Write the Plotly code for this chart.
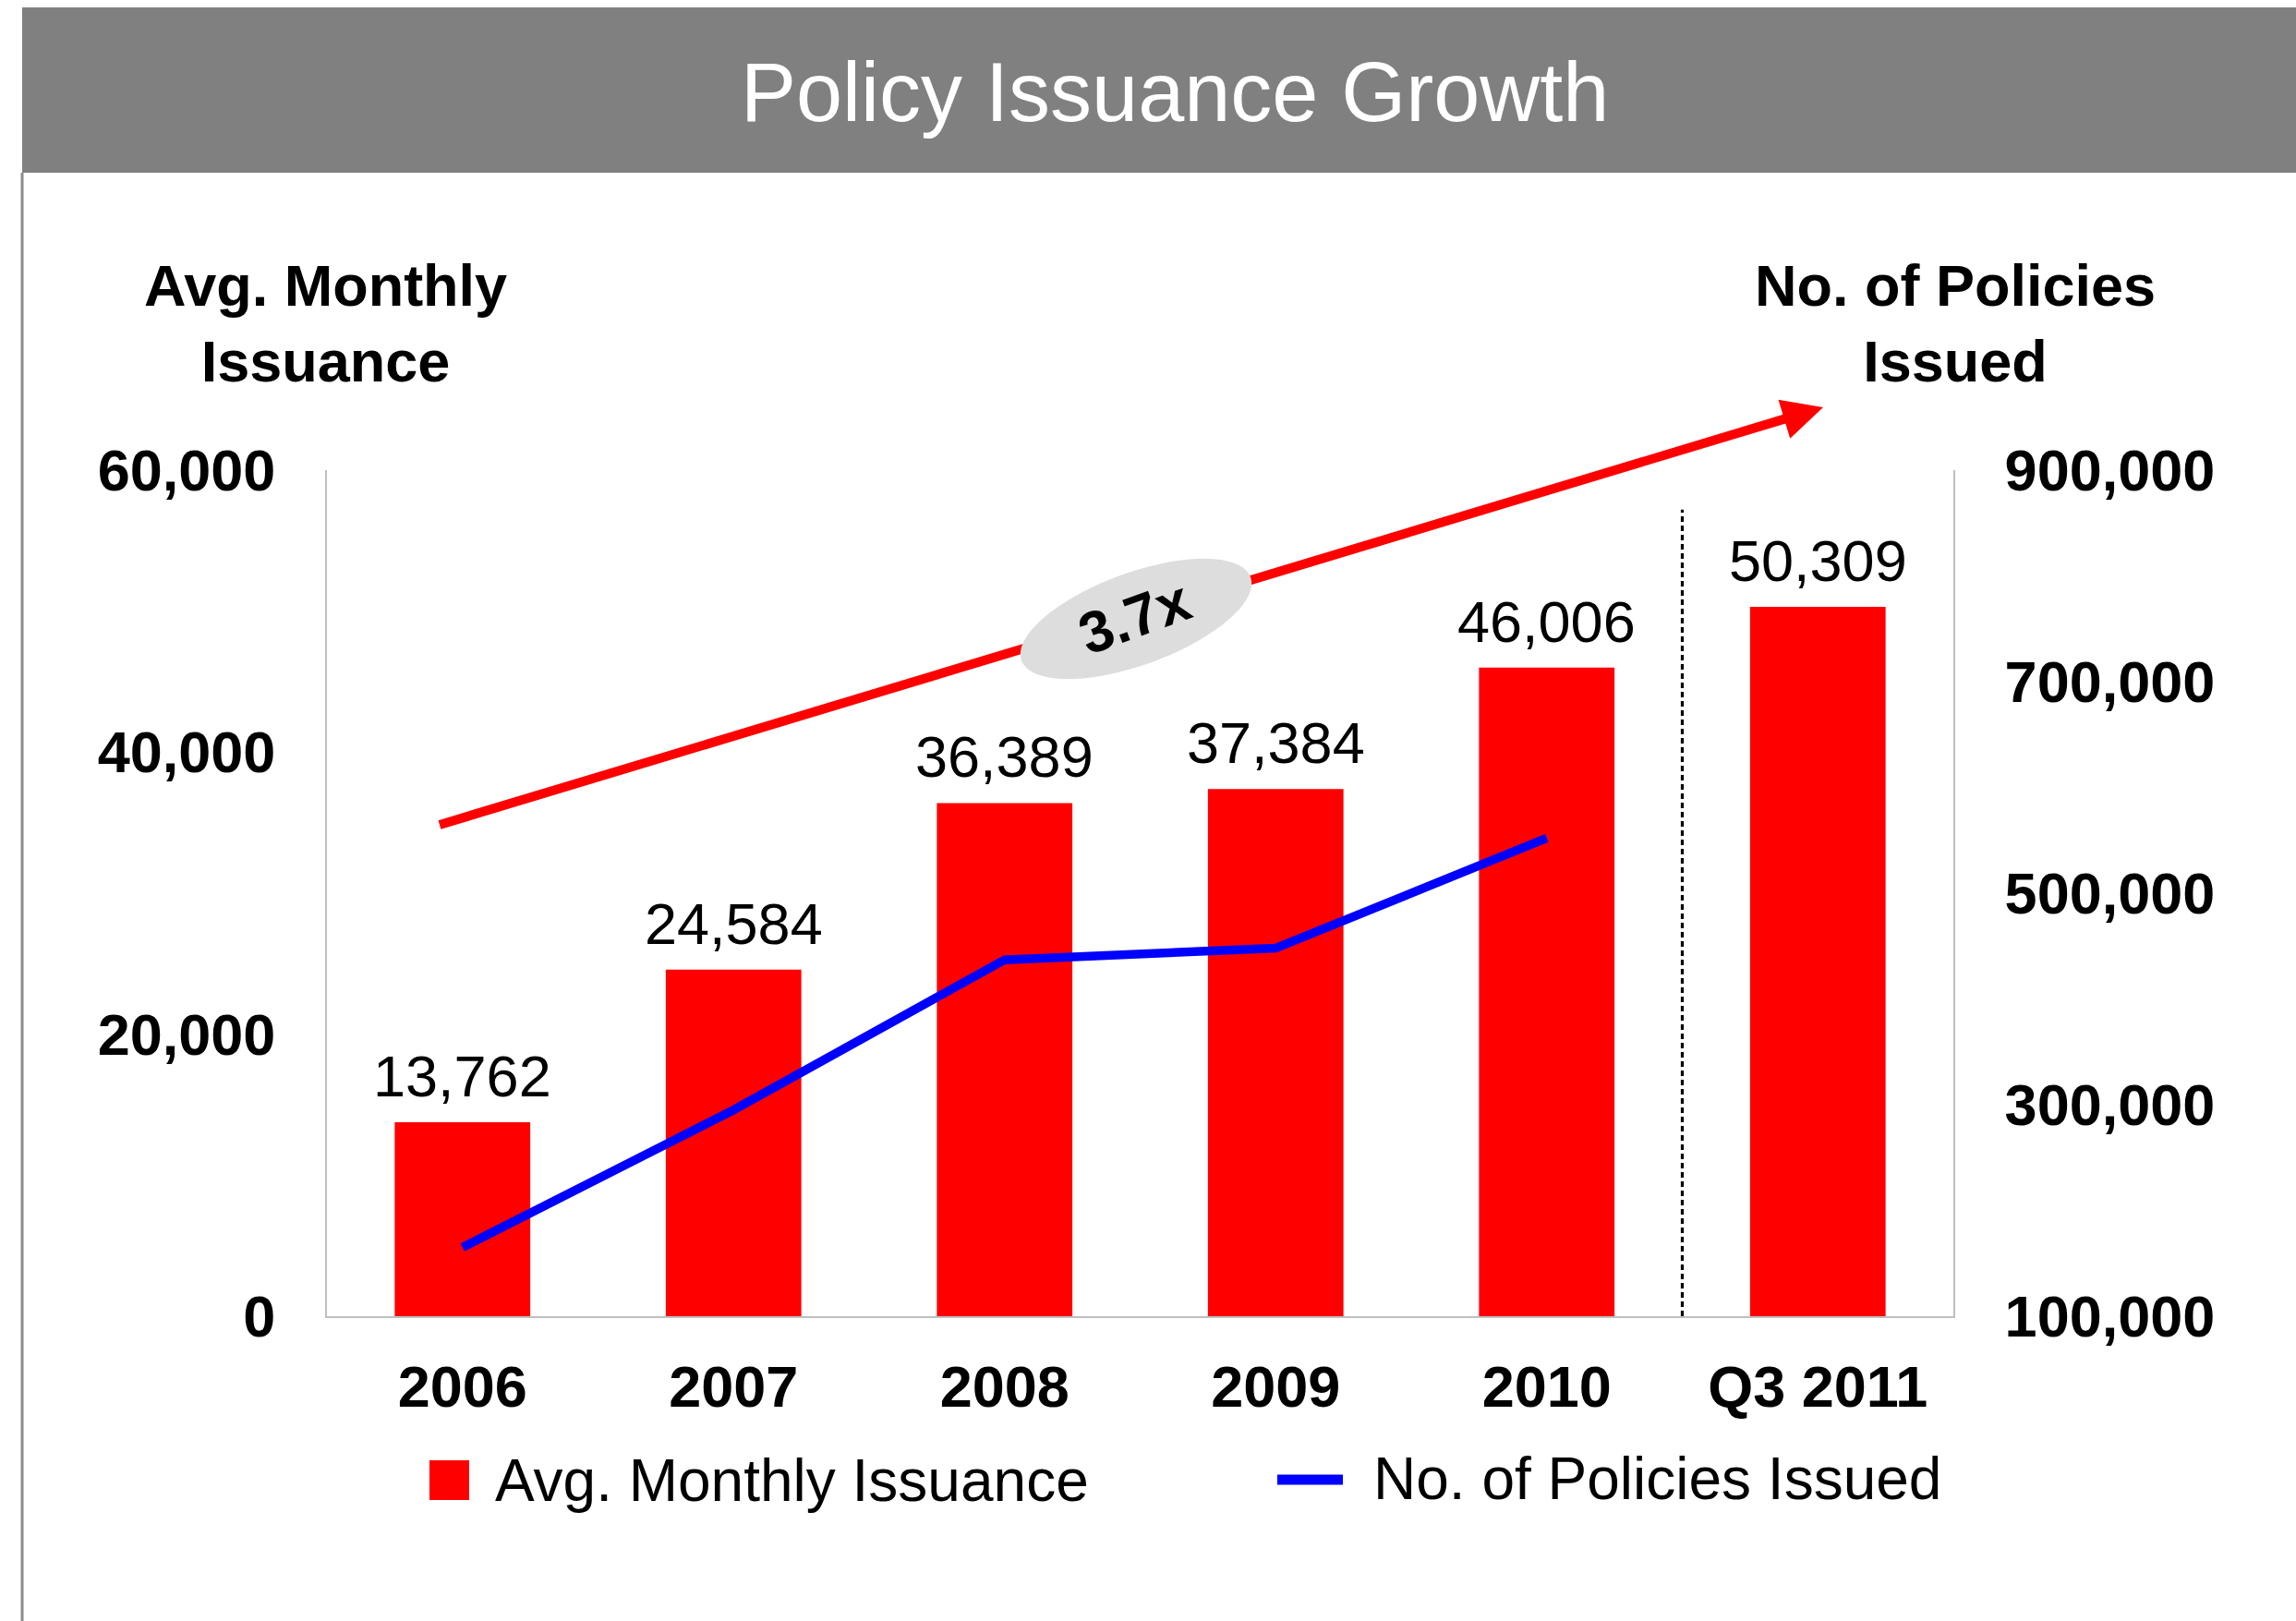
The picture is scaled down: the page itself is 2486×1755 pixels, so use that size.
import math
import plotly.graph_objects as go

# ---- data -------------------------------------------------------------
categories = ["2006", "2007", "2008", "2009", "2010", "Q3 2011"]
avg_monthly_issuance = [13762, 24584, 36389, 37384, 46006, 50309]

policy_years = ["2006", "2007", "2008", "2009", "2010"]
policies_issued = [165000, 295000, 437000, 448000, 552000]

left_ticks = [0, 20000, 40000, 60000]
right_ticks = [100000, 300000, 500000, 700000, 900000]

bar_name = "Avg. Monthly Issuance"
line_name = "No. of Policies Issued"
growth_label = "3.7x"

# ---- page geometry (pixels) -------------------------------------------
W_PAGE, H_PAGE = 2486, 1755
PLOT_L, PLOT_R, PLOT_T, PLOT_B = 354, 2115, 509, 1425
PW, PH = PLOT_R - PLOT_L, PLOT_B - PLOT_T

FONT = "Liberation Sans, Arial, sans-serif"
RED = "#FF0000"
BLUE = "#0000FF"
AXIS_GREY = "#BFBFBF"


def px(x):
    """page x pixel -> paper fraction"""
    return (x - PLOT_L) / PW


def py(y):
    """page y pixel -> paper fraction"""
    return (PLOT_B - y) / PH


fig = go.Figure()

fig.add_trace(go.Bar(
    x=categories, y=avg_monthly_issuance, name=bar_name,
    marker=dict(color=RED, line=dict(width=0)),
    showlegend=False,
))

fig.add_trace(go.Scatter(
    x=policy_years, y=policies_issued, name=line_name, yaxis="y2",
    mode="lines", line=dict(color=BLUE, width=9.5),
    showlegend=False,
))

shapes = []
annotations = []

# value labels above each bar (positioned by category index)
for i, val in enumerate(avg_monthly_issuance):
    annotations.append(dict(text=f"{val:,}", xref="x", yref="y", x=i, y=val,
                            xanchor="center", yanchor="bottom", yshift=13,
                            showarrow=False,
                            font=dict(family=FONT, size=63, color="black")))

# title banner and left rule
shapes.append(dict(type="rect", xref="paper", yref="paper",
                   x0=px(24), x1=px(W_PAGE + 20), y0=py(187), y1=py(8),
                   fillcolor="#808080", line=dict(width=0), layer="below"))
shapes.append(dict(type="line", xref="paper", yref="paper",
                   x0=px(24), x1=px(24), y0=py(187), y1=py(H_PAGE + 10),
                   line=dict(color="#8C8C8C", width=3)))
annotations.append(dict(text="Policy Issuance Growth", xref="paper", yref="paper",
                        x=px(1272), y=py(100), xanchor="center", yanchor="middle",
                        showarrow=False,
                        font=dict(family=FONT, size=90, color="white")))

# dashed separator before the partial-year column
shapes.append(dict(type="line", xref="x", yref="y", x0=4.5, x1=4.5,
                   y0=0, y1=57200,
                   line=dict(color="black", width=3.2, dash="6px,4px")))

# growth arrow (line + head)
ax0, ay0 = 476, 893
ax1, ay1 = 1974, 441
dx, dy = ax1 - ax0, ay1 - ay0
ln = math.hypot(dx, dy)
ux, uy = dx / ln, dy / ln
nx, ny = -uy, ux
head_len, head_half = 44, 22
bx, by = ax1 - head_len * ux, ay1 - head_len * uy
shapes.append(dict(type="line", xref="paper", yref="paper",
                   x0=px(ax0), y0=py(ay0), x1=px(bx + 2 * ux), y1=py(by + 2 * uy),
                   line=dict(color=RED, width=10)))
head = [(ax1, ay1), (bx + head_half * nx, by + head_half * ny),
        (bx - head_half * nx, by - head_half * ny)]
shapes.append(dict(type="path", xref="paper", yref="paper",
                   path="M" + " L".join(f"{px(x):.5f},{py(y):.5f}" for x, y in head) + " Z",
                   fillcolor=RED, line=dict(width=0)))

# grey ellipse badge along the arrow
cx, cy, ra, rb, rot = 1230, 670, 132, 50, math.radians(-20)
pts = []
for k in range(73):
    t = 2 * math.pi * k / 72
    ex, ey = ra * math.cos(t), rb * math.sin(t)
    pts.append((cx + ex * math.cos(rot) - ey * math.sin(rot),
                cy + ex * math.sin(rot) + ey * math.cos(rot)))
shapes.append(dict(type="path", xref="paper", yref="paper",
                   path="M" + " L".join(f"{px(x):.5f},{py(y):.5f}" for x, y in pts) + " Z",
                   fillcolor="#DDDDDD", line=dict(width=0)))
annotations.append(dict(text=growth_label, xref="paper", yref="paper",
                        x=px(cx - 2), y=py(cy - 2), xanchor="center", yanchor="middle",
                        showarrow=False, textangle=-20,
                        font=dict(family=FONT, size=63, color="black", weight="bold")))

# axis titles
annotations.append(dict(text="Avg. Monthly<br>Issuance", xref="paper", yref="paper",
                        x=px(352), y=py(350), xanchor="center", yanchor="middle",
                        showarrow=False,
                        font=dict(family=FONT, size=63, color="black", weight="bold")))
annotations.append(dict(text="No. of Policies<br>Issued", xref="paper", yref="paper",
                        x=px(2117), y=py(350), xanchor="center", yanchor="middle",
                        showarrow=False,
                        font=dict(family=FONT, size=63, color="black", weight="bold")))

# legend
shapes.append(dict(type="rect", xref="paper", yref="paper",
                   x0=px(465), x1=px(508), y0=py(1624), y1=py(1581),
                   fillcolor=RED, line=dict(width=0)))
annotations.append(dict(text=bar_name, xref="paper", yref="paper",
                        x=px(534), y=py(1603), xanchor="left", yanchor="middle",
                        showarrow=False, font=dict(family=FONT, size=64, color="black")))
shapes.append(dict(type="line", xref="paper", yref="paper",
                   x0=px(1383), x1=px(1454), y0=py(1602), y1=py(1602),
                   line=dict(color=BLUE, width=11)))
annotations.append(dict(text=line_name, xref="paper", yref="paper",
                        x=px(1485), y=py(1601), xanchor="left", yanchor="middle",
                        showarrow=False, font=dict(family=FONT, size=64, color="black")))

tick_font = dict(family=FONT, size=63, color="black", weight="bold")

fig.update_layout(
    width=W_PAGE, height=H_PAGE, autosize=False,
    margin=dict(l=PLOT_L, r=W_PAGE - PLOT_R, t=PLOT_T, b=H_PAGE - PLOT_B, pad=0),
    paper_bgcolor="white", plot_bgcolor="white",
    bargap=0.5, showlegend=False,
    font=dict(family=FONT),
    xaxis=dict(type="category", categoryorder="array", categoryarray=categories,
               range=[-0.5, len(categories) - 0.5],
               showline=True, linecolor=AXIS_GREY, linewidth=2, showgrid=False,
               ticks="", tickfont=tick_font, ticklabelstandoff=20),
    yaxis=dict(range=[0, 60000], tickvals=left_ticks, tickformat=",",
               showline=True, linecolor=AXIS_GREY, linewidth=2, showgrid=False,
               zeroline=False, ticks="", tickfont=tick_font, ticklabelstandoff=41),
    yaxis2=dict(range=[100000, 900000], tickvals=right_ticks, tickformat=",",
                overlaying="y", side="right",
                showline=True, linecolor=AXIS_GREY, linewidth=2, showgrid=False,
                zeroline=False, ticks="", tickfont=tick_font, ticklabelstandoff=41),
    shapes=shapes, annotations=annotations,
)

fig.write_html("out.html", config={"displayModeBar": False})
